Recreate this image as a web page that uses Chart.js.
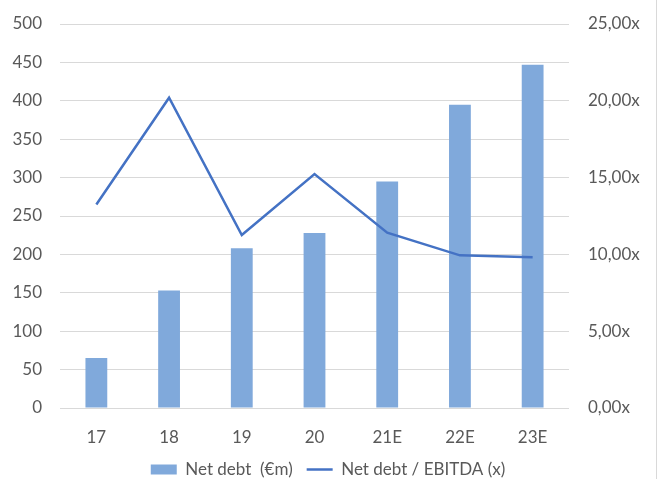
<!DOCTYPE html>
<html>
<head>
<meta charset="utf-8">
<script src="https://cdn.jsdelivr.net/npm/chart.js@4/dist/chart.umd.min.js"></script>
<style>
  html, body { margin: 0; padding: 0; background: #fff; }
  #wrap { width: 656px; height: 479px; border-right: 1px solid #d9d9d9; }
</style>
</head>
<body>
<div id="wrap"><canvas id="myChart" width="656" height="479"></canvas></div>
<script>
// categories & series
const years = ['17', '18', '19', '20', '21E', '22E', '23E'];
const netDebt = [65, 153, 208, 228, 295, 395, 447];
const debtEbitda = [13.25, 20.2, 11.26, 15.23, 11.41, 9.94, 9.81];

const TEXT = '#595959';
const FONT = { family: 'Lato, "Open Sans", sans-serif', size: 17 };

const ctx = document.getElementById('myChart').getContext('2d');

// fixed side widths, no extra top/bottom padding from tick labels
function fixWidth(w) {
  return (s) => {
    s.width = w;
    s.paddingTop = 0;
    s.paddingBottom = 0;
  };
}

const chart = new Chart(ctx, {
  data: {
    labels: years,
    datasets: [
      {
        type: 'line',
        label: 'Net debt / EBITDA (x)',
        data: debtEbitda,
        yAxisID: 'y1',
        borderColor: '#4472C4',
        backgroundColor: '#4472C4',
        borderWidth: 2.5,
        pointRadius: 0,
        tension: 0,
        pointStyle: 'line',
        order: 1
      },
      {
        type: 'bar',
        label: 'Net debt  (€m)',
        data: netDebt,
        yAxisID: 'y',
        backgroundColor: '#80A9DB',
        borderWidth: 0,
        categoryPercentage: 1,
        barPercentage: 0.3,
        pointStyle: 'rect',
        order: 2
      }
    ]
  },
  options: {
    responsive: false,
    animation: false,
    layout: { padding: { left: 0, right: 0, top: 24, bottom: -9 } },
    plugins: {
      legend: {
        position: 'bottom',
        reverse: true,
        labels: {
          color: TEXT,
          font: FONT,
          usePointStyle: true,
          pointStyleWidth: 26,
          boxHeight: 10,
          padding: 14
        }
      },
      tooltip: { enabled: false }
    },
    scales: {
      x: {
        afterFit: (s) => { s.height = 39; },
        grid: { display: false, drawTicks: false },
        border: { display: false },
        ticks: { color: TEXT, font: FONT, padding: 19 }
      },
      y: {
        position: 'left',
        min: 0,
        max: 500,
        afterFit: fixWidth(60),
        ticks: { stepSize: 50, color: TEXT, font: FONT, padding: 18 },
        grid: { color: '#d9d9d9', lineWidth: 1, drawTicks: false },
        border: { display: false }
      },
      y1: {
        position: 'right',
        min: 0,
        max: 25,
        afterFit: fixWidth(87),
        ticks: {
          stepSize: 5,
          color: TEXT,
          font: FONT,
          padding: 19,
          callback: (v) => v.toFixed(2).replace('.', ',') + 'x'
        },
        grid: { display: false, drawTicks: false },
        border: { display: false }
      }
    }
  }
});
</script>
</body>
</html>
